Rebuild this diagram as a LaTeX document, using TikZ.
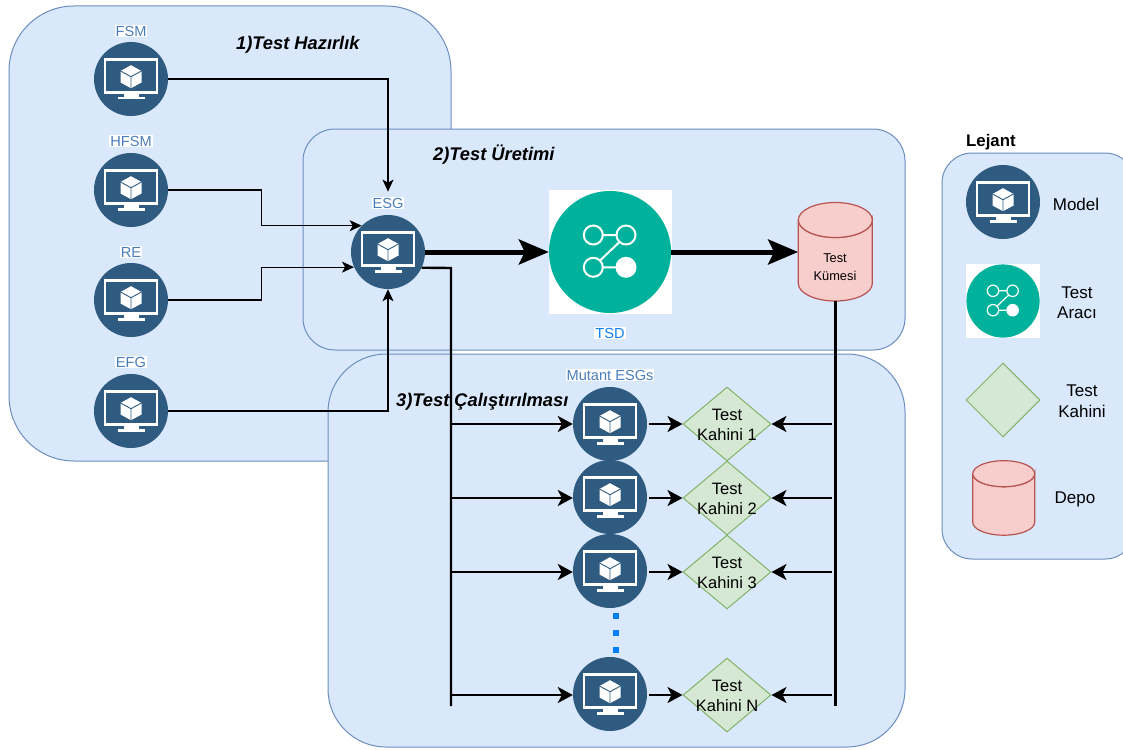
\documentclass[tikz,border=0pt]{standalone}
\usepackage{fontspec}
\setmainfont{Liberation Sans}
\usetikzlibrary{arrows.meta,shapes.geometric,calc}
\definecolor{panelfill}{HTML}{DAE8FC}
\definecolor{paneldraw}{HTML}{6C8EBF}
\definecolor{modelblue}{HTML}{2F5B80}
\definecolor{toolteal}{HTML}{00B29B}
\definecolor{labelblue}{HTML}{4A7EBB}
\definecolor{dotblue}{HTML}{007FFF}
\definecolor{oraclefill}{HTML}{D5E8D4}
\definecolor{oracledraw}{HTML}{82B366}
\definecolor{cylfill}{HTML}{F8CECC}
\definecolor{cyldraw}{HTML}{B85450}
\tikzset{
 panel/.style={fill=panelfill,draw=paneldraw,line width=1pt},
 modelc/.style={circle,fill=modelblue,minimum size=74pt,inner sep=0pt},
 tag/.style={fill=white,inner sep=1pt,text=labelblue,font=\fontsize{14.6}{16}\selectfont},
 title/.style={font=\fontsize{18.3}{20}\selectfont\bfseries\itshape,inner sep=0pt},
 oracle/.style={diamond,fill=oraclefill,draw=oracledraw,line width=1pt,minimum width=88pt,minimum height=74pt,inner sep=0pt,aspect=1.19},
 oracletext/.style={align=center,inner sep=0pt,font=\fontsize{16.5}{20.5}\selectfont},
 legtext/.style={align=center,inner sep=0pt,font=\fontsize{17}{20.5}\selectfont},
 storeframe/.style={rectangle,inner sep=0pt},
 storeline/.style={fill=cylfill,draw=cyldraw,line width=1.2pt},
 thin conn/.style={line width=1.2pt,-{Stealth[length=12pt,width=11pt,inset=3pt]}},
 mid conn/.style={line width=2.4pt,-{Stealth[length=15pt,width=16pt,inset=4pt]}},
 thick conn/.style={line width=5pt,-{Stealth[length=30pt,width=25pt,inset=6pt]}},
 bus/.style={line width=2.4pt},
}
\newcommand{\modelicon}[3]{%
 \node[modelc] (#1) at (#2,#3) {};
 \begin{scope}[shift={(#2,#3)}]
  \draw[white,line width=2.3pt] (-26,-19.5) rectangle (26,13.5);
  \fill[white] (-7.5,14) rectangle (7.5,18);
  \fill[white] (-13.5,18) rectangle (13.5,20.5);
  \fill[white] (0,-13.8) -- (10.5,-8) -- (10.5,3.5) -- (0,9.2) -- (-10.5,3.5) -- (-10.5,-8) -- cycle;
  \draw[modelblue,line width=.9pt] (-10.5,-8) -- (0,-2.3) -- (10.5,-8) (0,-2.3) -- (0,9.2);
 \end{scope}}
\newcommand{\toolicon}[4]{%
 \fill[white] ({#2-#4*61.5},{#3-#4*62}) rectangle ({#2+#4*61.5},{#3+#4*61.5});
 \node[circle,fill=toolteal,minimum size=#4*122pt,inner sep=0pt] (#1) at (#2,#3) {};
 \begin{scope}[shift={(#2,#3)},scale=#4]
  \draw[white,line width=#4*2pt] (-16.7,-17) circle (9.5) (16,-17) circle (9.5) (-16.7,15.3) circle (9.5);
  \fill[white] (16,15.3) circle (10.5);
  \draw[white,line width=#4*2pt] (-7.2,-17) -- (6.5,-17) (-7.2,15.3) -- (6,15.3) (9.5,-10) -- (-10,8.5);
 \end{scope}}
% name, centre x, top y, half width, height, ellipse radius
\newcommand{\storeshape}[6]{%
 \node[storeframe,minimum width=2*#4 pt,minimum height=#5 pt] (#1) at (#2,{#3+#5/2}) {};
 \draw[storeline] ({#2-#4},{#3+#6}) -- ({#2-#4},{#3+#5-#6})
   arc[start angle=180,end angle=360,x radius=#4,y radius=-#6]
   -- ({#2+#4},{#3+#6})
   arc[start angle=0,end angle=180,x radius=#4,y radius=#6];
 \draw[storeline] (#2,{#3+#6}) ellipse[x radius=#4,y radius=#6];}
\begin{document}
\begin{tikzpicture}[x=1pt,y=-1pt]
\useasboundingbox (0,0) rectangle (1123,749);
\fill[white] (0,0) rectangle (1123,749);
% panels
\draw[panel,rounded corners=65pt] (9,6) rectangle (451,461);
\draw[panel,rounded corners=32pt] (303,129) rectangle (905,350);
\draw[panel,rounded corners=58pt] (328,354) rectangle (905,747);
\draw[panel,rounded corners=30pt] (942,153) rectangle (1135,559);
% titles
\node[title,anchor=base west] (t1) at (236,50) {1)Test Hazırlık};
\node[title,anchor=base west] (t2) at (433,160.5) {2)Test Üretimi};
\node[title,anchor=base west] (t3) at (396,406) {3)Test Çalıştırılması};
\node[anchor=west,inner sep=0pt,font=\fontsize{16.8}{18}\selectfont\bfseries] (lej) at (966,142) {Lejant};
% input models
\modelicon{fsm}{131}{79}
\modelicon{hfsm}{131}{190}
\modelicon{re}{131}{300}
\modelicon{efg}{131}{411}
\node[tag] (fsml) at (131,31) {FSM};
\node[tag] (hfsml) at (131,141) {HFSM};
\node[tag] (rel) at (131,252) {RE};
\node[tag] (efgl) at (131,362) {EFG};
% ESG
\modelicon{esg}{388}{252}
\node[tag] (esgl) at (388,203) {ESG};
% tool
\toolicon{tsd}{610}{252}{1}
\node[tag,text=dotblue!80!labelblue] (tsdl) at (610,333) {TSD};
% test set
\storeshape{cyl}{835.3}{202.5}{37}{98.5}{17.5}
\node[align=center,inner sep=0pt,font=\fontsize{12.8}{17.5}\selectfont] (cylt) at (835,267) {Test\\Kümesi};
% mutants
\node[tag] (mutl) at (610,375) {Mutant ESGs};
\modelicon{m1}{610}{424}
\modelicon{m2}{610}{497}
\modelicon{m3}{610}{571}
\modelicon{m4}{610}{694}
\node[oracle] (o1) at (727,424) {};
\node[oracle] (o2) at (727,498) {};
\node[oracle] (o3) at (727,572) {};
\node[oracle] (o4) at (727,695) {};
\node[oracletext] (o1t) at (727,425) {Test\\Kahini 1};
\node[oracletext] (o2t) at (727,499) {Test\\Kahini 2};
\node[oracletext] (o3t) at (727,573) {Test\\Kahini 3};
\node[oracletext] (o4t) at (727,696) {Test\\Kahini N};
% bus coordinates
\coordinate (bustop) at (451,268);
\coordinate (busend) at (451,706);
\coordinate (rbusend) at (835.3,706);
\coordinate (b1) at (451,424);
\coordinate (b2) at (451,498);
\coordinate (b3) at (451,572);
\coordinate (b4) at (451,695);
\coordinate (r1) at (832,424);
\coordinate (r2) at (832,498);
\coordinate (r3) at (832,572);
\coordinate (r4) at (832,695);
\coordinate (d1) at (615.7,612.7);
\coordinate (d2) at (615.7,653);
\coordinate (esgin) at ($(esgl.north)+(0,-5)$);
% connectors
\draw[thin conn] (fsm.east) -| (esgin);
\draw[thin conn] (hfsm.east) -- ++(93,0) |- (esg.135);
\draw[thin conn] (re.east) -- ++(93,0) |- (esg.204);
\draw[thin conn] (efg.east) -| (esg.south);
\draw[thick conn] (esg.east) -- (tsd.west);
\draw[thick conn] (tsd.east) -- (cyl.west |- tsd.east);
\draw[bus] (esg.-25) -- (bustop) -- (busend);
\draw[bus] (cyl.south) -- (rbusend);
\foreach \i in {1,2,3,4} {
 \draw[mid conn] (b\i) -- (m\i.west |- b\i);
 \draw[mid conn] (m\i.east |- o\i.west) ++(2,0) -- (o\i.west);
 \draw[mid conn] (r\i) -- (o\i.east);
}
\draw[dotblue,line width=6pt,dash pattern=on 6pt off 11pt] (d1) -- (d2);
% legend
\modelicon{lm}{1003}{202}
\toolicon{lt}{1003}{301}{0.6}
\node[oracle,minimum width=74pt,minimum height=74pt,aspect=1] (lo) at (1003,400) {};
\storeshape{lc}{1003.7}{460.7}{31}{74.5}{13}
\node[legtext] (lmt) at (1076,204) {Model};
\node[legtext] (ltt) at (1077,302.5) {Test\\Aracı};
\node[legtext] (lot) at (1082,401) {Test\\Kahini};
\node[legtext] (lct) at (1075,499) {Depo};
\end{tikzpicture}
\end{document}
